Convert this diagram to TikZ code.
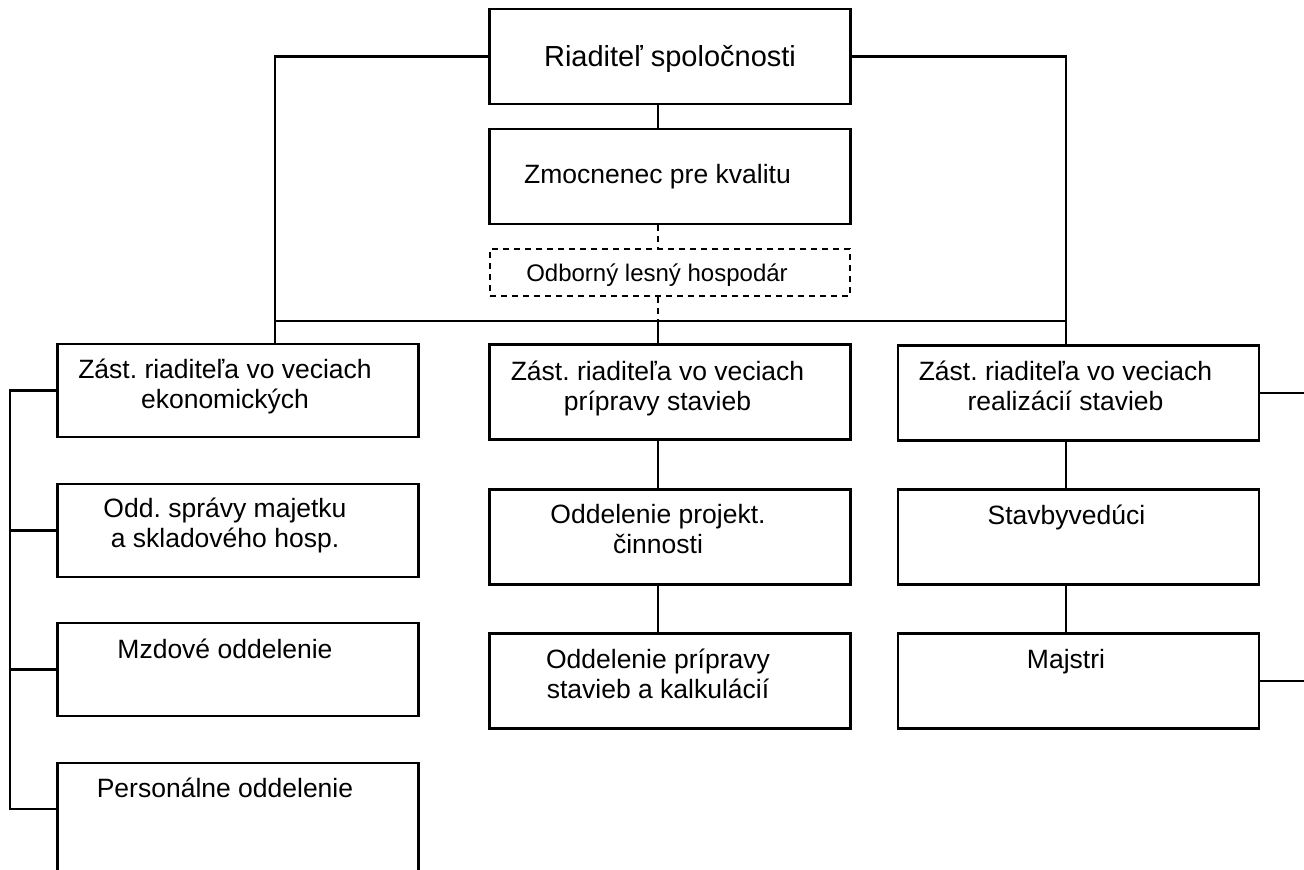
\documentclass[tikz,border=0pt]{standalone}
\usepackage{fontspec}
\setmainfont{Liberation Sans}
\frenchspacing
\usetikzlibrary{positioning}
\tikzset{
  unitbox/.style={draw,line width=2.2pt,minimum width=361pt,minimum height=95pt,inner sep=0pt},
  lbl/.style={font=\fontsize{26.5}{30}\selectfont,align=center,anchor=base,inner sep=0pt},
  link/.style={line width=2.2pt},
}

\begin{document}
\begin{tikzpicture}[x=1pt,y=-1pt]
\clip (0,0) rectangle (1304,870);
% boxes
\node[unitbox] (riad) at (670,56.5) {};
\node[unitbox] (zmoc) at (670,176.5) {};
\node[unitbox,dashed,dash pattern=on 6pt off 5pt,minimum width=360pt,minimum height=47pt] (lesny) at (670,272.5) {};
\node[unitbox,minimum height=93pt] (ekon) at (238,390.5) {};
\node[unitbox,minimum height=93pt] (majetok) at (238,530.5) {};
\node[unitbox,minimum height=93pt] (mzdy) at (238,669.5) {};
\node[unitbox,minimum height=140pt] (perso) at (238,833) {};
\node[unitbox] (priprava) at (670,392) {};
\node[unitbox] (projekt) at (670,537) {};
\node[unitbox] (kalk) at (670,681) {};
\node[unitbox] (realiz) at (1078.5,393) {};
\node[unitbox] (stavby) at (1078.5,537) {};
\node[unitbox] (majstri) at (1078.5,681) {};
% texts
\node[lbl,font=\fontsize{29}{33}\selectfont] (riadt) at (670,66) {Riaditeľ spoločnosti};
\node[lbl] (zmoct) at (657.5,183) {Zmocnenec pre kvalitu};
\node[lbl,font=\fontsize{24}{28}\selectfont] (lesnyt) at (657,281) {Odborný lesný hospodár};
\node[lbl] (ekont) at (225,408) {Zást. riaditeľa vo veciach\\ekonomických};
\node[lbl] (majetokt) at (225,547) {Odd. správy majetku\\a skladového hosp.};
\node[lbl] (mzdyt) at (225,658) {Mzdové oddelenie};
\node[lbl] (persot) at (225,797) {Personálne oddelenie};
\node[lbl] (pripravat) at (657.5,410) {Zást. riaditeľa vo veciach\\prípravy stavieb};
\node[lbl] (projektt) at (658,553) {Oddelenie projekt.\\činnosti};
\node[lbl] (kalkt) at (658,698) {Oddelenie prípravy\\stavieb a kalkulácií};
\node[lbl] (realizt) at (1065.5,410) {Zást. riaditeľa vo veciach\\realizácií stavieb};
\node[lbl] (stavbyt) at (1066.5,524) {Stavbyvedúci};
\node[lbl] (majstrit) at (1066,668) {Majstri};
% connectors
\coordinate (lbus) at (275,321);
\coordinate (rbus) at (1066,321);
\coordinate (mid) at (658,321);
\coordinate (rail) at (10,809);
\coordinate (redge) at (1304,0);
\draw[link] (riad.west) -| (lbus |- ekon.north);
\draw[link] (riad.east) -| (rbus |- realiz.north);
\draw[link] (lbus) -- (rbus);
\draw[link] (riad.south -| mid) -- (zmoc.north -| mid);
\draw[link,dash pattern=on 6pt off 5pt] (zmoc.south -| mid) -- (lesny.north -| mid);
\draw[link,dash pattern=on 6pt off 5pt] (lesny.south -| mid) -- (mid);
\draw[link] (mid) -- (mid |- priprava.north);
\draw[link] (priprava.south -| mid) -- (projekt.north -| mid);
\draw[link] (projekt.south -| mid) -- (kalk.north -| mid);
\draw[link] (realiz.south -| rbus) -- (stavby.north -| rbus);
\draw[link] (stavby.south -| rbus) -- (majstri.north -| rbus);
\draw[link] (ekon.west) -| (rail) -- (rail -| perso.west);
\foreach \b in {majetok,mzdy}
  \draw[link] (\b.west) -- (\b.west -| rail);
\draw[link] (realiz.east) -- (realiz.east -| redge);
\draw[link] (majstri.east) -- (majstri.east -| redge);
\end{tikzpicture}
\end{document}
